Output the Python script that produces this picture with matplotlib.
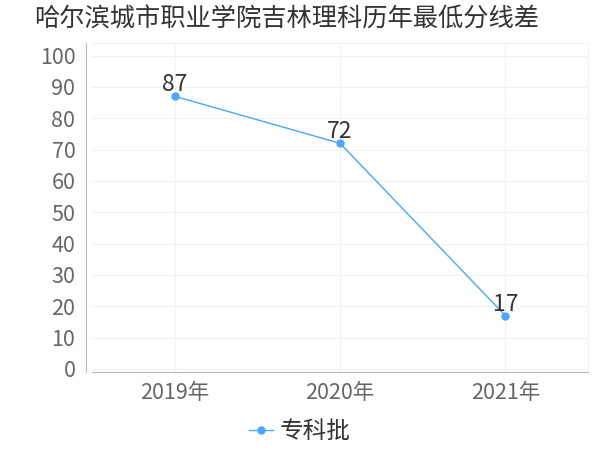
import matplotlib
matplotlib.use("Agg")
import matplotlib.pyplot as plt

plt.rcParams['font.family'] = ['Noto Sans CJK SC', 'DejaVu Sans']

# data
years = ['2019年', '2020年', '2021年']
scores = [87, 72, 17]
series_name = '专科批'
title = '哈尔滨城市职业学院吉林理科历年最低分线差'

C_LINE = '#4da6ff'
C_TICK = '#666666'
C_TEXT = '#333333'

fig = plt.figure(figsize=(6, 4.5), dpi=100)
ax = fig.add_axes([92 / 600, 1 - 372 / 450, 496 / 600, 329 / 450])

xs = list(range(len(years)))
ax.plot(xs, scores, color=C_LINE, lw=1, marker='o', ms=5, label=series_name)
for x, v in zip(xs, scores):
    ax.annotate(str(v), (x, v), xytext=(0, 0), textcoords='offset points',
                ha='center', va='bottom', fontsize=16.5, color=C_TEXT)

ax.set_xlim(-0.5, 2.5)
ax.set_ylim(-1, 104)
ax.set_yticks(range(0, 101, 10))
ax.set_xticks(xs)
ax.set_xticklabels(years)
ax.tick_params(axis='both', labelsize=15.5, colors=C_TICK, length=0, pad=7)
ax.tick_params(axis='y', pad=8)

ax.grid(True, color='#f2f2f2', lw=0.8)
for s in ['top', 'right']:
    ax.spines[s].set_color('#f2f2f2')
ax.spines['left'].set_color('#bbbbbb')
ax.spines['left'].set_position(('outward', 4))
ax.spines['bottom'].set_color('#bbbbbb')

fig.text(287 / 600, 1 - 20 / 450, title, ha='center', va='center',
         fontsize=18.2, color=C_TEXT)
fig.legend(loc='center', bbox_to_anchor=(0.5, 1 - 432 / 450), frameon=False,
           fontsize=17, handlelength=1.0, handletextpad=0.3,
           labelcolor=C_TEXT)

fig.savefig('out.png', dpi=100)
